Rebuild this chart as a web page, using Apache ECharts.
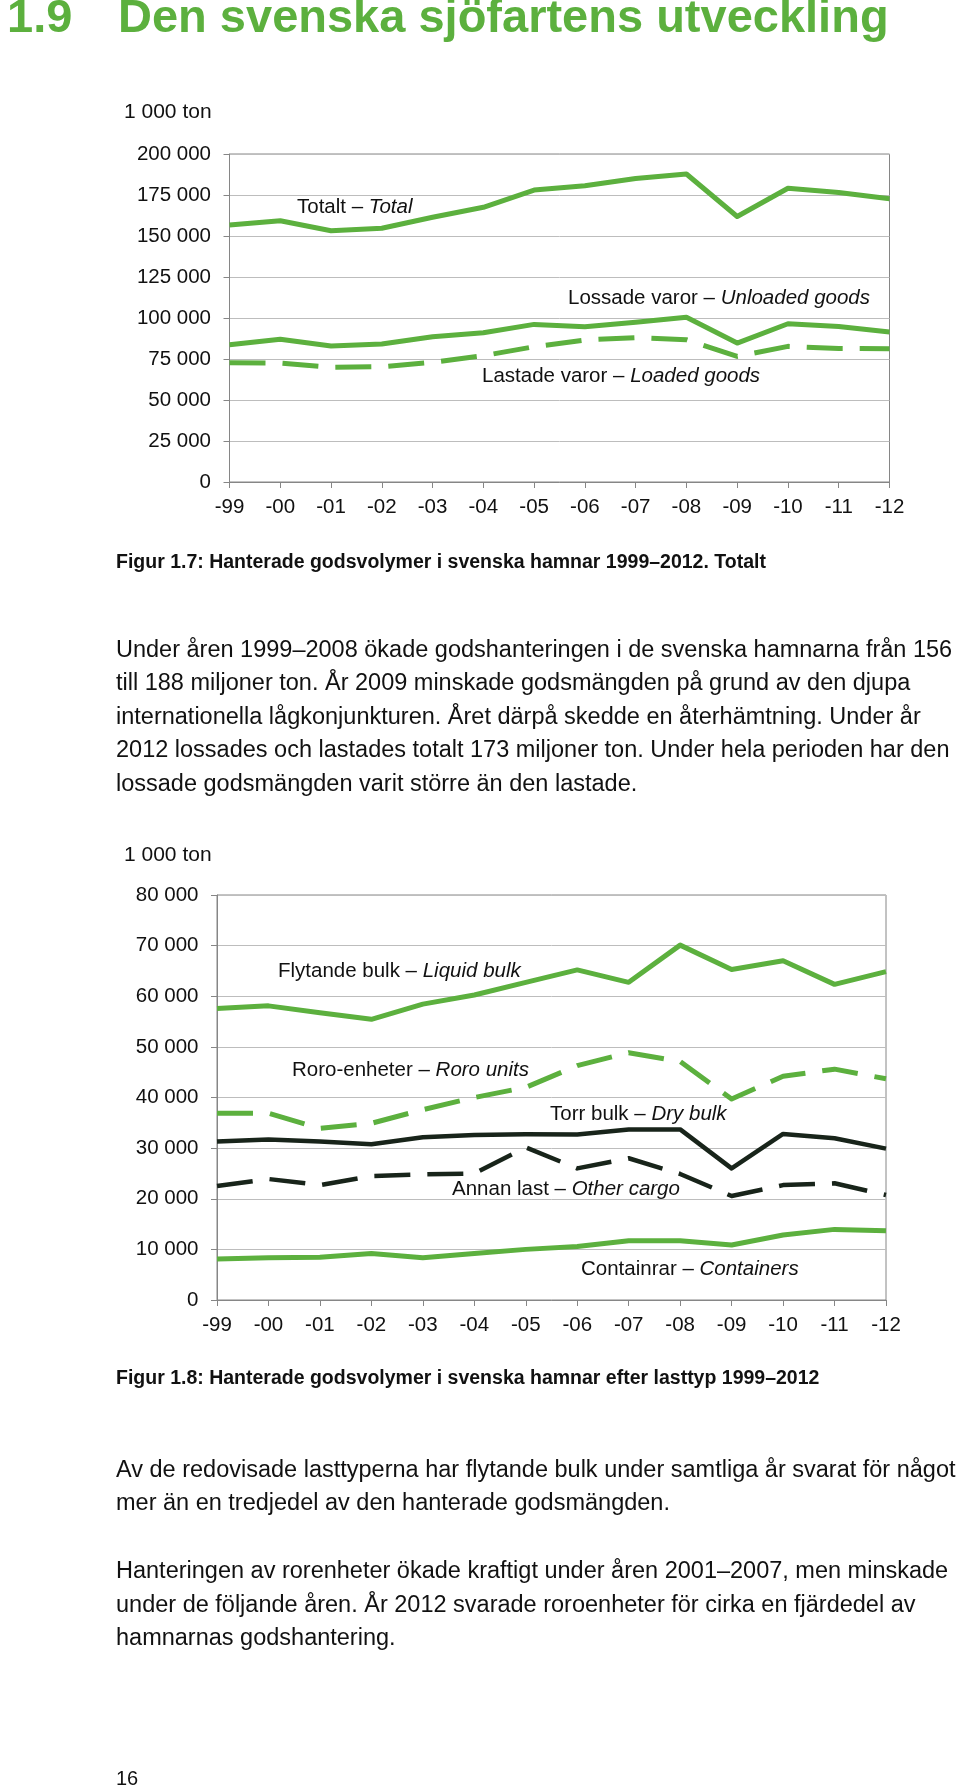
<!DOCTYPE html>
<html>
<head>
<meta charset="utf-8">
<title>Den svenska sjöfartens utveckling</title>
<script src="https://cdn.jsdelivr.net/npm/echarts@6/dist/echarts.min.js"></script>
<style>
  html, body { margin: 0; padding: 0; background: #fff; }
  #main { width: 960px; height: 1789px; }
</style>
</head>
<body>
<div id="main"></div>
<script>
// År (kategorier)
const years = ['-99', '-00', '-01', '-02', '-03', '-04', '-05', '-06', '-07', '-08', '-09', '-10', '-11', '-12'];

// Figur 1.7, 1 000 ton
const totalt = [156700, 159300, 153200, 154700, 161400, 167500, 178000, 180700, 185000, 187800, 161900, 179150, 176500, 172700];
const lossade = [83700, 87000, 82900, 84100, 88600, 91000, 96100, 94700, 97450, 100500, 84700, 96500, 94800, 91400];
const lastade = [72700, 72500, 69900, 70300, 73000, 77000, 82500, 86600, 88000, 86750, 76600, 82700, 81450, 81300];

// Figur 1.8, 1 000 ton
const flytande = [57600, 58100, 56750, 55450, 58450, 60250, 62750, 65200, 62750, 70100, 65300, 67000, 62350, 64850];
const roro = [36900, 36900, 33900, 34900, 37600, 40000, 42000, 46300, 48850, 47100, 39700, 44200, 45600, 43700];
const torrBulk = [31300, 31700, 31300, 30750, 32150, 32600, 32750, 32700, 33700, 33700, 26000, 32800, 31950, 29900];
const annanLast = [22500, 23900, 22700, 24500, 24800, 25000, 30150, 26000, 28000, 24900, 20550, 22700, 23050, 20750];
const containrar = [8100, 8350, 8450, 9200, 8350, 9200, 10000, 10550, 11700, 11700, 10850, 12850, 13950, 13700];

const FONT = '"Liberation Sans", Arial, sans-serif';
const GREEN = '#5cb03e';
const DARK = '#18241a';
const AXIS = '#868686';
const GRID = '#bdbdbd';
const DASH = [36, 17];

// tusental med mellanslag, 200000 -> "200 000"
function fmt(v) {
  return String(v).replace(/\B(?=(\d{3})+(?!\d))/g, ' ');
}

function xAxis(idx) {
  return {
    type: 'category', gridIndex: idx, data: years, boundaryGap: false,
    axisLine: { lineStyle: { color: AXIS, width: 1 } },
    axisTick: { show: true, length: 6, interval: 0, lineStyle: { color: AXIS } },
    axisLabel: { interval: 0, margin: 15, color: '#111', fontSize: 20.5, fontFamily: FONT },
    splitLine: { show: false }
  };
}
function yAxis(idx, max, step) {
  return {
    type: 'value', gridIndex: idx, min: 0, max: max, interval: step,
    axisLine: { show: true, lineStyle: { color: AXIS, width: 1 } },
    axisTick: { show: true, length: 6, lineStyle: { color: AXIS } },
    axisLabel: { margin: 18.5, color: '#111', fontSize: 20.5, fontFamily: FONT, formatter: fmt },
    splitLine: { lineStyle: { color: GRID, width: 1 } }
  };
}
function line(name, idx, data, color, dashed, w) {
  return {
    name: name, type: 'line', xAxisIndex: idx, yAxisIndex: idx, data: data,
    symbol: 'none', smooth: false, animation: false,
    lineStyle: { color: color, width: w || 5, type: dashed ? DASH : 'solid', cap: 'butt', join: 'round' }
  };
}

// text helpers
function txt(x, y, text, size, opts) {
  return {
    type: 'text', silent: true,
    style: Object.assign({
      x: x, y: y, text: text, fill: '#111',
      fontSize: size, fontFamily: FONT, verticalAlign: 'middle'
    }, opts || {})
  };
}
function lbl(x, y, normal, italic) {
  const base = { fontSize: 20.5, fontFamily: FONT, fill: '#111' };
  return {
    type: 'text', silent: true,
    style: {
      x: x, y: y, text: '{n|' + normal + '}{i|' + italic + '}',
      fontSize: 20.5, fontFamily: FONT, verticalAlign: 'middle',
      rich: { n: base, i: Object.assign({ fontStyle: 'italic' }, base) }
    }
  };
}

const para1 = [
  'Under åren 1999–2008 ökade godshanteringen i de svenska hamnarna från 156',
  'till 188 miljoner ton. År 2009 minskade godsmängden på grund av den djupa',
  'internationella lågkonjunkturen. Året därpå skedde en återhämtning. Under år',
  '2012 lossades och lastades totalt 173 miljoner ton. Under hela perioden har den',
  'lossade godsmängden varit större än den lastade.'
];
const para2 = [
  'Av de redovisade lasttyperna har flytande bulk under samtliga år svarat för något',
  'mer än en tredjedel av den hanterade godsmängden.'
];
const para3 = [
  'Hanteringen av rorenheter ökade kraftigt under åren 2001–2007, men minskade',
  'under de följande åren. År 2012 svarade roroenheter för cirka en fjärdedel av',
  'hamnarnas godshantering.'
];
const LH = 33.4;
function para(lines, y0) {
  return lines.map(function (s, i) { return txt(116, y0 + i * LH, s, 23.5); });
}

const myChart = echarts.init(document.getElementById('main'), null, { renderer: 'canvas' });

myChart.setOption({
  backgroundColor: '#fff',
  animation: false,
  grid: [
    { left: 229.5, top: 154, width: 660, height: 328, show: true, borderColor: AXIS, borderWidth: 1 },
    { left: 217, top: 895, width: 669, height: 405, show: true, borderColor: AXIS, borderWidth: 1 }
  ],
  xAxis: [xAxis(0), xAxis(1)],
  yAxis: [yAxis(0, 200000, 25000), yAxis(1, 80000, 10000)],
  series: [
    line('Totalt', 0, totalt, GREEN, false),
    line('Lossade varor', 0, lossade, GREEN, false),
    line('Lastade varor', 0, lastade, GREEN, true),
    line('Flytande bulk', 1, flytande, GREEN, false),
    line('Roro-enheter', 1, roro, GREEN, true),
    line('Torr bulk', 1, torrBulk, DARK, false, 4.5),
    line('Annan last', 1, annanLast, DARK, true, 4.5),
    line('Containrar', 1, containrar, GREEN, false)
  ],
  graphic: [
    // rubrik
    txt(7, 19.5, '1.9', 47, { fontWeight: 'bold', fill: GREEN }),
    txt(118, 19.5, 'Den svenska sjöfartens utveckling', 47, { fontWeight: 'bold', fill: GREEN }),
    // figur 1.7
    txt(124, 112, '1 000 ton', 21),
    lbl(297, 207.5, 'Totalt – ', 'Total'),
    lbl(568, 298.5, 'Lossade varor – ', 'Unloaded goods'),
    lbl(482, 376.5, 'Lastade varor – ', 'Loaded goods'),
    txt(116, 562.5, 'Figur 1.7: Hanterade godsvolymer i svenska hamnar 1999–2012. Totalt', 19.5, { fontWeight: 'bold' }),
    // figur 1.8
    txt(124, 855, '1 000 ton', 21),
    lbl(278, 971.5, 'Flytande bulk – ', 'Liquid bulk'),
    lbl(292, 1070.5, 'Roro-enheter – ', 'Roro units'),
    lbl(550, 1114.5, 'Torr bulk – ', 'Dry bulk'),
    lbl(452, 1189.5, 'Annan last – ', 'Other cargo'),
    lbl(581, 1269.5, 'Containrar – ', 'Containers'),
    txt(116, 1379, 'Figur 1.8: Hanterade godsvolymer i svenska hamnar efter lasttyp 1999–2012', 19.5, { fontWeight: 'bold' }),
    // sidnummer
    txt(116, 1779, '16', 20)
  ].concat(para(para1, 650.6), para(para2, 1470.3), para(para3, 1571.8))
});
</script>
</body>
</html>
